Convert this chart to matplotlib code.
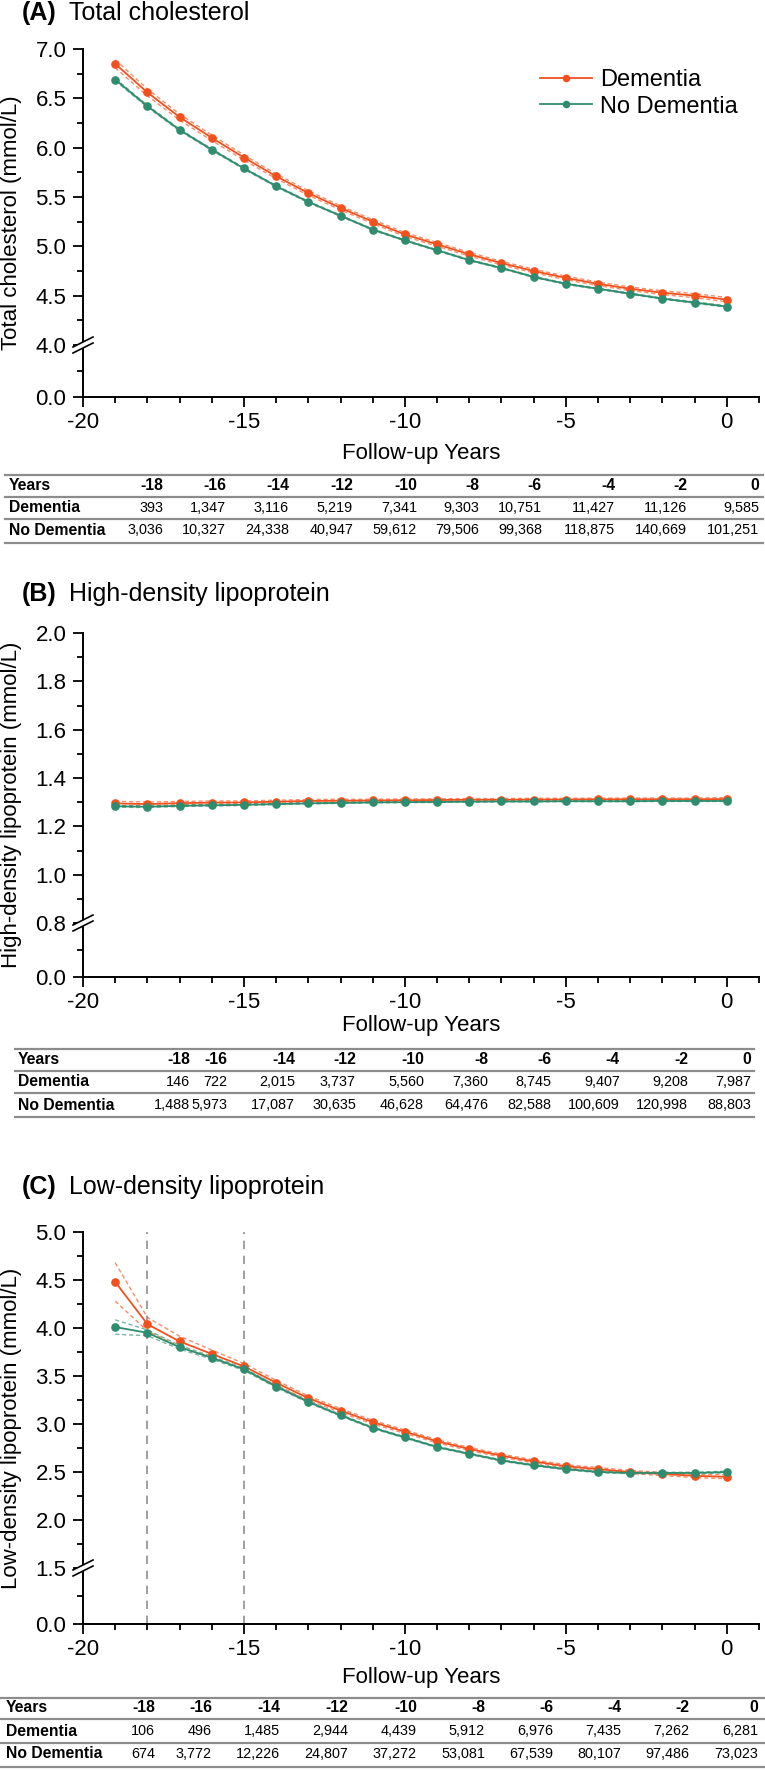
import numpy as np
import matplotlib
matplotlib.use("Agg")
import matplotlib.pyplot as plt
from matplotlib import font_manager
from matplotlib.lines import Line2D
from matplotlib.patches import Polygon
from matplotlib.ticker import FixedLocator, FormatStrFormatter
from matplotlib.transforms import IdentityTransform

plt.rcParams['font.family'] = ['Liberation Sans', 'DejaVu Sans']
plt.rcParams['axes.unicode_minus'] = False

# ---- data ----
years = [-19, -18, -17, -16, -15, -14, -13, -12, -11, -10,
         -9, -8, -7, -6, -5, -4, -3, -2, -1, 0]

tc_dem = [6.85, 6.56, 6.31, 6.10, 5.90, 5.71, 5.54, 5.39, 5.25, 5.12,
          5.02, 4.92, 4.83, 4.75, 4.68, 4.62, 4.57, 4.53, 4.50, 4.46]
tc_nodem = [6.69, 6.42, 6.18, 5.98, 5.79, 5.61, 5.45, 5.31, 5.17, 5.06,
            4.96, 4.86, 4.78, 4.69, 4.62, 4.57, 4.52, 4.47, 4.43, 4.39]
tc_dem_ci = [0.040, 0.035, 0.030, 0.028, 0.026, 0.024, 0.022, 0.021, 0.020, 0.020,
             0.019, 0.019, 0.018, 0.018, 0.018, 0.018, 0.018, 0.019, 0.020, 0.022]
tc_nodem_ci = [0.012, 0.010, 0.009, 0.008, 0.008, 0.007, 0.007, 0.006, 0.006, 0.006,
               0.006, 0.006, 0.006, 0.006, 0.006, 0.006, 0.006, 0.006, 0.007, 0.008]

hdl_dem = [1.295, 1.292, 1.296, 1.298, 1.299, 1.302, 1.305, 1.306, 1.307, 1.308,
           1.309, 1.310, 1.310, 1.311, 1.311, 1.312, 1.312, 1.312, 1.312, 1.313]
hdl_nodem = [1.283, 1.281, 1.285, 1.287, 1.289, 1.292, 1.295, 1.297, 1.299, 1.300,
             1.301, 1.302, 1.303, 1.303, 1.304, 1.304, 1.304, 1.305, 1.305, 1.305]
hdl_dem_ci = [0.009, 0.008, 0.007, 0.007, 0.006, 0.006, 0.006, 0.006, 0.005, 0.005,
              0.005, 0.005, 0.005, 0.005, 0.005, 0.005, 0.005, 0.005, 0.005, 0.006]
hdl_nodem_ci = [0.004, 0.003, 0.003, 0.003, 0.003, 0.002, 0.002, 0.002, 0.002, 0.002,
                0.002, 0.002, 0.002, 0.002, 0.002, 0.002, 0.002, 0.002, 0.002, 0.002]

ldl_dem = [4.48, 4.04, 3.86, 3.73, 3.60, 3.43, 3.27, 3.14, 3.02, 2.92,
           2.82, 2.74, 2.67, 2.61, 2.56, 2.53, 2.50, 2.48, 2.46, 2.45]
ldl_nodem = [4.01, 3.95, 3.80, 3.69, 3.57, 3.39, 3.23, 3.09, 2.96, 2.86,
             2.76, 2.69, 2.62, 2.57, 2.53, 2.50, 2.49, 2.49, 2.49, 2.50]
ldl_dem_ci = [0.20, 0.07, 0.055, 0.04, 0.03, 0.025, 0.022, 0.020, 0.019, 0.018,
              0.017, 0.016, 0.016, 0.016, 0.016, 0.016, 0.016, 0.017, 0.018, 0.020]
ldl_nodem_ci = [0.075, 0.03, 0.02, 0.015, 0.012, 0.010, 0.009, 0.008, 0.008, 0.007,
                0.007, 0.007, 0.007, 0.007, 0.007, 0.007, 0.007, 0.007, 0.008, 0.009]

ldl_vlines = [-18, -15]

table_years = ['-18', '-16', '-14', '-12', '-10', '-8', '-6', '-4', '-2', '0']
tc_n_dem = ['393', '1,347', '3,116', '5,219', '7,341', '9,303', '10,751', '11,427', '11,126', '9,585']
tc_n_nodem = ['3,036', '10,327', '24,338', '40,947', '59,612', '79,506', '99,368', '118,875', '140,669', '101,251']
hdl_n_dem = ['146', '722', '2,015', '3,737', '5,560', '7,360', '8,745', '9,407', '9,208', '7,987']
hdl_n_nodem = ['1,488', '5,973', '17,087', '30,635', '46,628', '64,476', '82,588', '100,609', '120,998', '88,803']
ldl_n_dem = ['106', '496', '1,485', '2,944', '4,439', '5,912', '6,976', '7,435', '7,262', '6,281']
ldl_n_nodem = ['674', '3,772', '12,226', '24,807', '37,272', '53,081', '67,539', '80,107', '97,486', '73,023']

RED = '#F2501C'
GREEN = '#2F8C6E'
W, H = 765, 1771

try:
    font_manager.findfont(font_manager.FontProperties(family='Liberation Sans Narrow'),
                          fallback_to_default=False)
    TABLE_FONT, LABEL_SIZE, NUM_SIZE = ['Liberation Sans Narrow', 'DejaVu Sans'], 12.5, 12
except ValueError:
    TABLE_FONT, LABEL_SIZE, NUM_SIZE = ['Liberation Sans', 'DejaVu Sans'], 11.3, 10.4


def fy(px):
    return 1 - px / H


def make_scale(brk, low_len):
    def fwd(y):
        y = np.asarray(y, dtype=float)
        return np.where(y < brk, y * low_len / brk, low_len + (y - brk))

    def inv(v):
        v = np.asarray(v, dtype=float)
        return np.where(v < low_len, v * brk / low_len, v - low_len + brk)
    return fwd, inv


fig = plt.figure(figsize=(W / 100, H / 100), dpi=100)
renderer = fig.canvas.get_renderer()


def panel(letter, title, title_y, top_px, brk_px, bot_px, ytop, brk, step,
          ylabel, dem, nodem, dem_ci, nodem_ci, xlab_y, legend=False, vlines=()):
    x_left, x_right = 83, 759
    ax = fig.add_axes([x_left / W, fy(bot_px), (x_right - x_left) / W, (bot_px - top_px) / H])
    px_per_unit = (brk_px - top_px) / (ytop - brk)
    low_len = (bot_px - brk_px) / px_per_unit
    ax.set_yscale('function', functions=make_scale(brk, low_len))
    ax.set_ylim(0, ytop)
    ax.set_xlim(-20, 1)

    majors = [0] + list(np.round(np.arange(brk, ytop + step / 2, step), 3))
    minors = [brk / 2] + list(np.round(np.arange(brk + step / 2, ytop, step), 3))
    ax.yaxis.set_major_locator(FixedLocator(majors))
    ax.yaxis.set_minor_locator(FixedLocator(minors))
    ax.yaxis.set_major_formatter(FormatStrFormatter('%.1f'))
    ax.xaxis.set_major_locator(FixedLocator([-20, -15, -10, -5, 0]))
    ax.xaxis.set_minor_locator(FixedLocator(list(range(-20, 2))))

    for s in ('top', 'right'):
        ax.spines[s].set_visible(False)
    for s in ('left', 'bottom'):
        ax.spines[s].set_linewidth(1.4)
    ax.tick_params(which='major', direction='out', length=7, width=1.3, labelsize=16)
    ax.tick_params(which='minor', direction='out', length=4, width=1.3)
    ax.tick_params(axis='y', which='major', pad=5)
    ax.tick_params(axis='x', which='major', pad=4)

    x = np.array(years)
    for vx in vlines:
        ax.axvline(vx, color='#8f8f8f', lw=1.2, ls=(0, (5, 4)), zorder=1)
    for vals, ci, col in ((dem, dem_ci, RED), (nodem, nodem_ci, GREEN)):
        v = np.array(vals)
        c = np.array(ci)
        ax.plot(x, v + c, color=col, lw=1.0, ls=(0, (3, 2)), alpha=0.65, zorder=2)
        ax.plot(x, v - c, color=col, lw=1.0, ls=(0, (3, 2)), alpha=0.65, zorder=2)
    h1, = ax.plot(x, dem, color=RED, lw=1.3, marker='o', ms=5.2, zorder=3, label='Dementia')
    h2, = ax.plot(x, nodem, color=GREEN, lw=1.3, marker='o', ms=5.2, zorder=3, label='No Dementia')

    ax.set_ylabel(ylabel, fontsize=16)
    ax.yaxis.set_label_coords((12 - x_left) / (x_right - x_left), 0.5)
    ax.yaxis.label.set_va('center')
    ax.set_xlabel('Follow-up Years', fontsize=16)
    ax.xaxis.set_label_coords(0.5, -(xlab_y - bot_px) / (bot_px - top_px))
    ax.xaxis.label.set_va('center')

    if legend:
        ax.legend(handles=[h1, h2], loc='upper left',
                  bbox_to_anchor=((540 - x_left) / (x_right - x_left), (bot_px - 69) / (bot_px - top_px)),
                  frameon=False, fontsize=17, handlelength=2.2, handletextpad=0.35,
                  labelspacing=0.2, borderpad=0, borderaxespad=0, markerscale=0.85)

    # axis break marker
    bx, by = ax.transData.transform((-20, brk))
    gap = Polygon([(bx - 10, by - 8), (bx + 10, by + 2), (bx + 10, by + 8), (bx - 10, by - 2)],
                  closed=True, facecolor='white', edgecolor='none',
                  transform=IdentityTransform(), zorder=5)
    fig.add_artist(gap)
    for dy in (-3, 3):
        fig.add_artist(Line2D([bx - 10, bx + 10], [by - 5 + dy, by + 5 + dy], color='black',
                              lw=1.2, transform=IdentityTransform(), zorder=6))

    # title
    t1 = fig.text(22 / W, fy(title_y), letter, fontsize=18, fontweight='bold', va='center', ha='left')
    ext = t1.get_window_extent(renderer=renderer)
    fig.text((ext.x1 + 12) / W, fy(title_y), title, fontsize=18, va='center', ha='left')
    return ax


def table(lines_px, rows_px, x0, x1, label_x, cols, n_dem, n_nodem):
    for yy in lines_px:
        fig.add_artist(Line2D([x0 / W, x1 / W], [fy(yy), fy(yy)], color='#8c8c8c', lw=1.6))
    rows = [('Years', table_years, 'bold'), ('Dementia', n_dem, 'normal'),
            ('No Dementia', n_nodem, 'normal')]
    for (name, vals, wt), ry in zip(rows, rows_px):
        fig.text(label_x / W, fy(ry), name, family=TABLE_FONT, fontsize=LABEL_SIZE,
                 fontweight='bold', va='center', ha='left')
        for cx, v in zip(cols, vals):
            fig.text(cx / W, fy(ry), v, family=TABLE_FONT,
                     fontsize=LABEL_SIZE if wt == 'bold' else NUM_SIZE,
                     fontweight=wt, va='center', ha='right')


panel('(A)', 'Total cholesterol', 13, 49, 345, 397, 7.0, 4.0, 0.5,
      'Total cholesterol (mmol/L)', tc_dem, tc_nodem, tc_dem_ci, tc_nodem_ci,
      453, legend=True)
table([475, 497, 519, 543], [486, 508, 530], 5, 763, 9,
      [163, 226, 289, 353, 417, 479, 542, 615, 687, 759], tc_n_dem, tc_n_nodem)

panel('(B)', 'High-density lipoprotein', 594, 633, 923, 977, 2.0, 0.8, 0.2,
      'High-density lipoprotein (mmol/L)', hdl_dem, hdl_nodem, hdl_dem_ci, hdl_nodem_ci,
      1025)
table([1049, 1071, 1093, 1117], [1060, 1082, 1105], 15, 754, 18,
      [190, 227, 295, 356, 424, 488, 551, 620, 688, 751], hdl_n_dem, hdl_n_nodem)

panel('(C)', 'Low-density lipoprotein', 1187, 1232, 1568, 1624, 5.0, 1.5, 0.5,
      'Low-density lipoprotein (mmol/L)', ldl_dem, ldl_nodem, ldl_dem_ci, ldl_nodem_ci,
      1677, vlines=ldl_vlines)
table([1698, 1719, 1743, 1767], [1708, 1731, 1754], 0, 765, 6,
      [155, 212, 280, 348, 417, 485, 553, 621, 689, 758], ldl_n_dem, ldl_n_nodem)

fig.savefig('out.png', dpi=100)
